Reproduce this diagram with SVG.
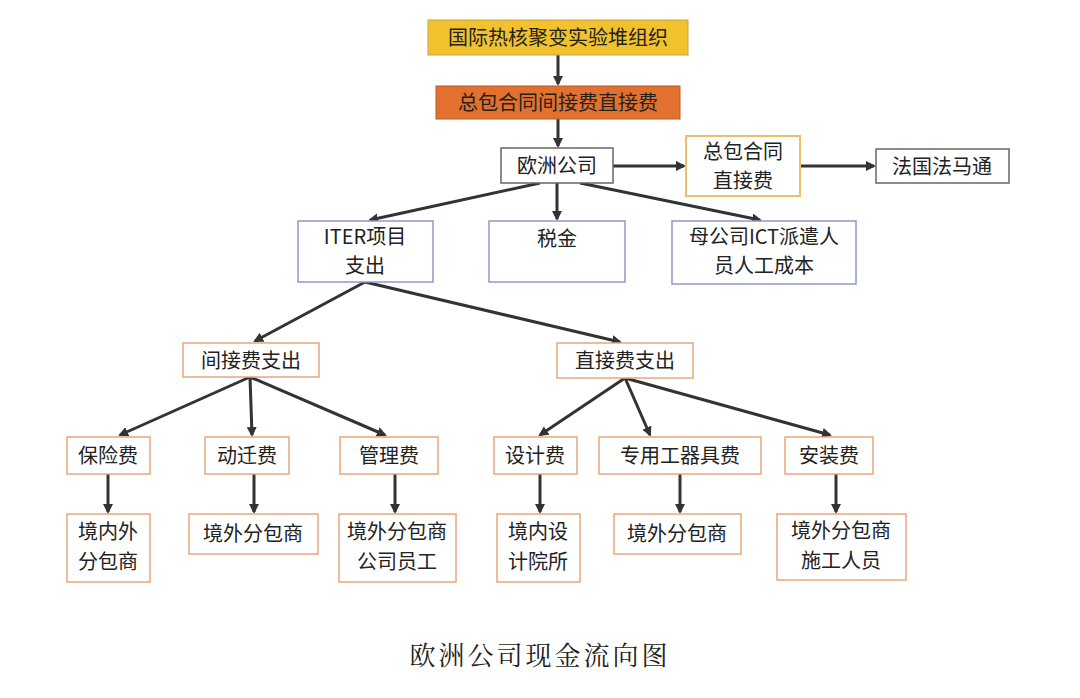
<svg xmlns="http://www.w3.org/2000/svg" width="1080" height="698" viewBox="0 0 1080 698">
<defs>
<marker id="ah" markerWidth="10" markerHeight="10" refX="8" refY="5" orient="auto" markerUnits="userSpaceOnUse"><path d="M0,0 L10,5 L0,10 z" fill="#333"/></marker>
<style>
text{font-family:"Noto Sans CJK SC","Liberation Sans",sans-serif;font-size:20px;fill:#222;text-anchor:middle}
.g{fill:#fff;stroke:#666;stroke-width:1.5}
.b{fill:#fff;stroke:#8E9AC8;stroke-width:1.5}
.o{fill:#fff;stroke:#E9A77A;stroke-width:1.5}
.y{fill:#fff;stroke:#F0C060;stroke-width:2}
#conn line{stroke:#333;stroke-width:3;marker-end:url(#ah)}
</style>
</defs>
<rect width="1080" height="698" fill="#fff"/>
<g id="conn">
<line x1="558" y1="55" x2="558" y2="84"/>
<line x1="558" y1="119" x2="558" y2="146"/>
<line x1="613" y1="166" x2="684" y2="166"/>
<line x1="800" y1="166" x2="874" y2="166"/>
<line x1="540" y1="183" x2="370" y2="220"/>
<line x1="557" y1="183" x2="557" y2="219"/>
<line x1="580" y1="183" x2="760" y2="220"/>
<line x1="365" y1="282" x2="255" y2="341"/>
<line x1="365" y1="282" x2="620" y2="342"/>
<line x1="250" y1="377" x2="120" y2="435"/>
<line x1="250" y1="377" x2="252" y2="435"/>
<line x1="250" y1="377" x2="385" y2="435"/>
<line x1="625" y1="378" x2="540" y2="435"/>
<line x1="625" y1="378" x2="650" y2="435"/>
<line x1="625" y1="378" x2="830" y2="435"/>
<line x1="108" y1="474" x2="108" y2="512"/>
<line x1="254" y1="474" x2="254" y2="512"/>
<line x1="395" y1="474" x2="395" y2="512"/>
<line x1="540" y1="474" x2="540" y2="512"/>
<line x1="680" y1="474" x2="680" y2="512"/>
<line x1="836" y1="474" x2="836" y2="512"/>
</g>
<g id="n1"><rect x="428" y="20" width="260" height="35" fill="#F2C12E" stroke="#C9A24A"/><text x="558" y="45">国际热核聚变实验堆组织</text></g>
<g id="n2"><rect x="436" y="86" width="244" height="33" fill="#E2712F" stroke="#B85A26"/><text x="558" y="110">总包合同间接费直接费</text></g>
<g id="n3"><rect class="g" x="501" y="148" width="112" height="35"/><text x="557" y="173">欧洲公司</text></g>
<g id="n4"><rect class="y" x="686" y="136" width="114" height="60"/><text x="743" y="159">总包合同</text><text x="743" y="188">直接费</text></g>
<g id="n5"><rect class="g" x="876" y="149" width="133" height="34"/><text x="942" y="174">法国法马通</text></g>
<g id="n6"><rect class="b" x="298" y="221" width="135" height="61"/><text x="365" y="244">ITER项目</text><text x="365" y="273">支出</text></g>
<g id="n7"><rect class="b" x="489" y="221" width="136" height="61"/><text x="557" y="246">税金</text></g>
<g id="n8"><rect class="b" x="672" y="221" width="184" height="63"/><text x="764" y="244">母公司ICT派遣人</text><text x="764" y="273">员人工成本</text></g>
<g id="n9"><rect class="o" x="183" y="343" width="136" height="34"/><text x="251" y="368">间接费支出</text></g>
<g id="n10"><rect class="o" x="557" y="343" width="136" height="35"/><text x="625" y="368">直接费支出</text></g>
<g id="n11"><rect class="o" x="67" y="437" width="83" height="37"/><text x="108" y="463">保险费</text></g>
<g id="n12"><rect class="o" x="205" y="437" width="84" height="37"/><text x="247" y="463">动迁费</text></g>
<g id="n13"><rect class="o" x="340" y="437" width="98" height="37"/><text x="389" y="463">管理费</text></g>
<g id="n14"><rect class="o" x="494" y="437" width="83" height="37"/><text x="535" y="463">设计费</text></g>
<g id="n15"><rect class="o" x="599" y="437" width="162" height="37"/><text x="680" y="463">专用工器具费</text></g>
<g id="n16"><rect class="o" x="785" y="437" width="88" height="37"/><text x="829" y="463">安装费</text></g>
<g id="n17"><rect class="o" x="67" y="514" width="83" height="68"/><text x="108" y="539">境内外</text><text x="108" y="569">分包商</text></g>
<g id="n18"><rect class="o" x="189" y="514" width="129" height="40"/><text x="253" y="541">境外分包商</text></g>
<g id="n19"><rect class="o" x="339" y="514" width="117" height="68"/><text x="397" y="539">境外分包商</text><text x="397" y="569">公司员工</text></g>
<g id="n20"><rect class="o" x="497" y="514" width="83" height="68"/><text x="538" y="539">境内设</text><text x="538" y="569">计院所</text></g>
<g id="n21"><rect class="o" x="614" y="514" width="127" height="40"/><text x="677" y="541">境外分包商</text></g>
<g id="n22"><rect class="o" x="777" y="514" width="129" height="66"/><text x="841" y="538">境外分包商</text><text x="841" y="568">施工人员</text></g>
<text x="540" y="665" style="font-family:'Noto Serif CJK SC','Noto Sans CJK SC',serif;font-size:26px;letter-spacing:3px">欧洲公司现金流向图</text>
</svg>
